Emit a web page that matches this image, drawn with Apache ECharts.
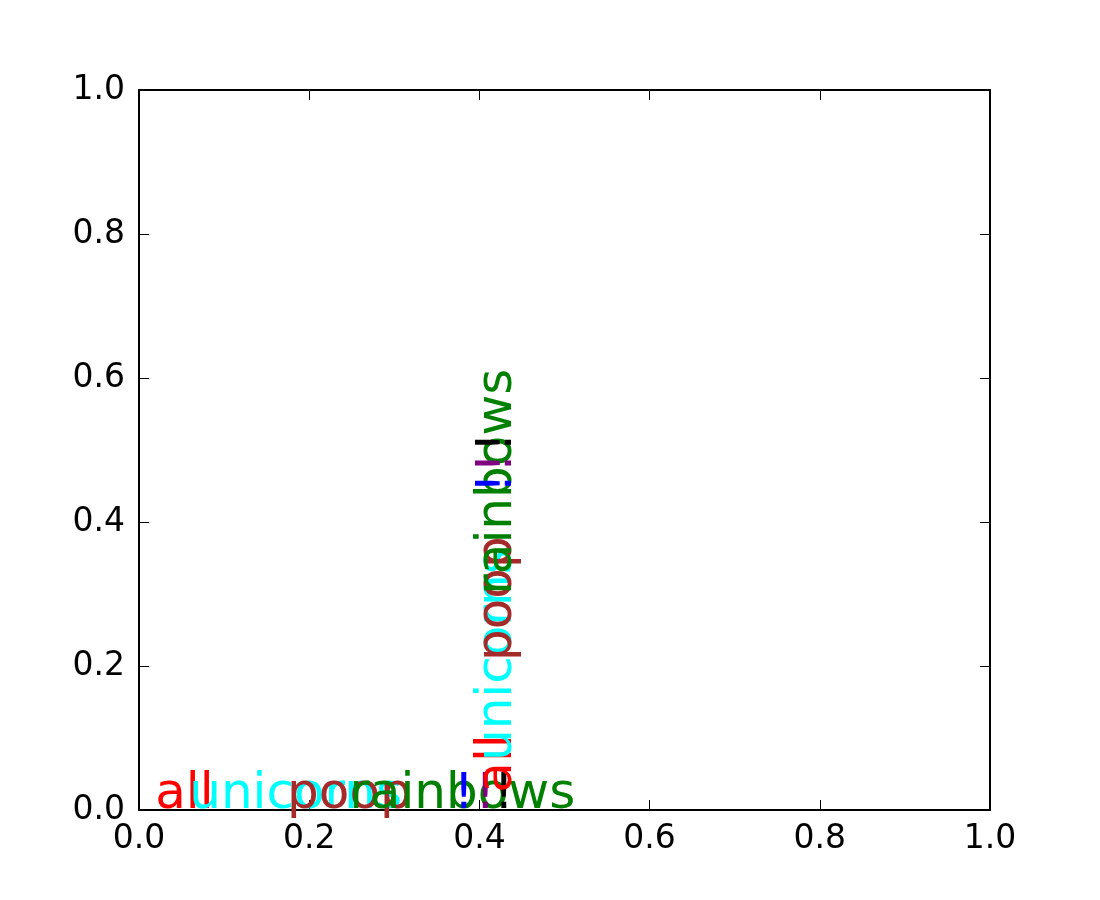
<!DOCTYPE html>
<html>
<head>
<meta charset="utf-8">
<script src="https://cdn.jsdelivr.net/npm/echarts@6/dist/echarts.min.js"></script>
<style>html,body{margin:0;padding:0;background:#fff;}#chart{width:1100px;height:900px;}</style>
</head>
<body>
<div id="chart"></div>
<script>
// words and their colours
const words = ['all', 'unicorns', 'poop', 'rainbows', '!', '!', '!'];
const colors = ['red', 'cyan', 'brown', 'green', 'blue', 'purple', 'black'];
// horizontal line: word start x values, baseline y
const hStartX = [0.019, 0.059, 0.174, 0.247, 0.370, 0.395, 0.417];
const hBaseY = 0.0;
// vertical line: baseline x, word start y values
const vBaseX = 0.44;
const vStartY = [0.024, 0.068, 0.207, 0.299, 0.440, 0.468, 0.497];
// ticks
const ticks = [0.0, 0.2, 0.4, 0.6, 0.8, 1.0];

const FONT = 'DejaVu Sans';
const chart = echarts.init(document.getElementById('chart'), null, {renderer: 'canvas'});

function axisCommon(showLabels) {
  return {
    type: 'value', min: ticks[0], max: ticks[ticks.length - 1], interval: ticks[1] - ticks[0],
    axisLine: {show: true, onZero: false, lineStyle: {color: '#000', width: 2}},
    axisTick: {show: true, inside: true, length: 10, lineStyle: {color: '#000', width: 1}},
    splitLine: {show: false},
    axisLabel: {show: showLabels, color: '#000', fontFamily: FONT, fontSize: 33,
      formatter: v => v.toFixed(1)}
  };
}

const hData = words.map((w, i) => ({
  value: [hStartX[i], hBaseY], name: w,
  label: {color: colors[i]}
}));
const vData = words.map((w, i) => ({
  value: [vBaseX, vStartY[i]], name: w,
  label: {color: colors[i]}
}));

const labelBase = {
  show: true, formatter: '{b}', fontFamily: FONT, fontSize: 50, opacity: 1,
  position: [0, 0], align: 'left', verticalAlign: 'bottom', offset: [0, 10]
};

chart.setOption({
  animation: false,
  grid: {left: 139, right: 110, top: 90, bottom: 90, show: false},
  xAxis: [
    Object.assign(axisCommon(true), {position: 'bottom', axisLabel: Object.assign(axisCommon(true).axisLabel, {margin: 13})}),
    Object.assign(axisCommon(false), {position: 'top'})
  ],
  yAxis: [
    Object.assign(axisCommon(true), {position: 'left', axisLabel: Object.assign(axisCommon(true).axisLabel, {margin: 14})}),
    Object.assign(axisCommon(false), {position: 'right'})
  ],
  series: [
    {type: 'scatter', xAxisIndex: 0, yAxisIndex: 0, symbolSize: 0, clip: false,
      itemStyle: {opacity: 1}, label: Object.assign({}, labelBase), data: hData, z: 5},
    {type: 'scatter', xAxisIndex: 0, yAxisIndex: 0, symbolSize: 0, clip: false,
      itemStyle: {opacity: 1}, label: Object.assign({}, labelBase, {rotate: 90}), data: vData, z: 5}
  ]
});
</script>
</body>
</html>
